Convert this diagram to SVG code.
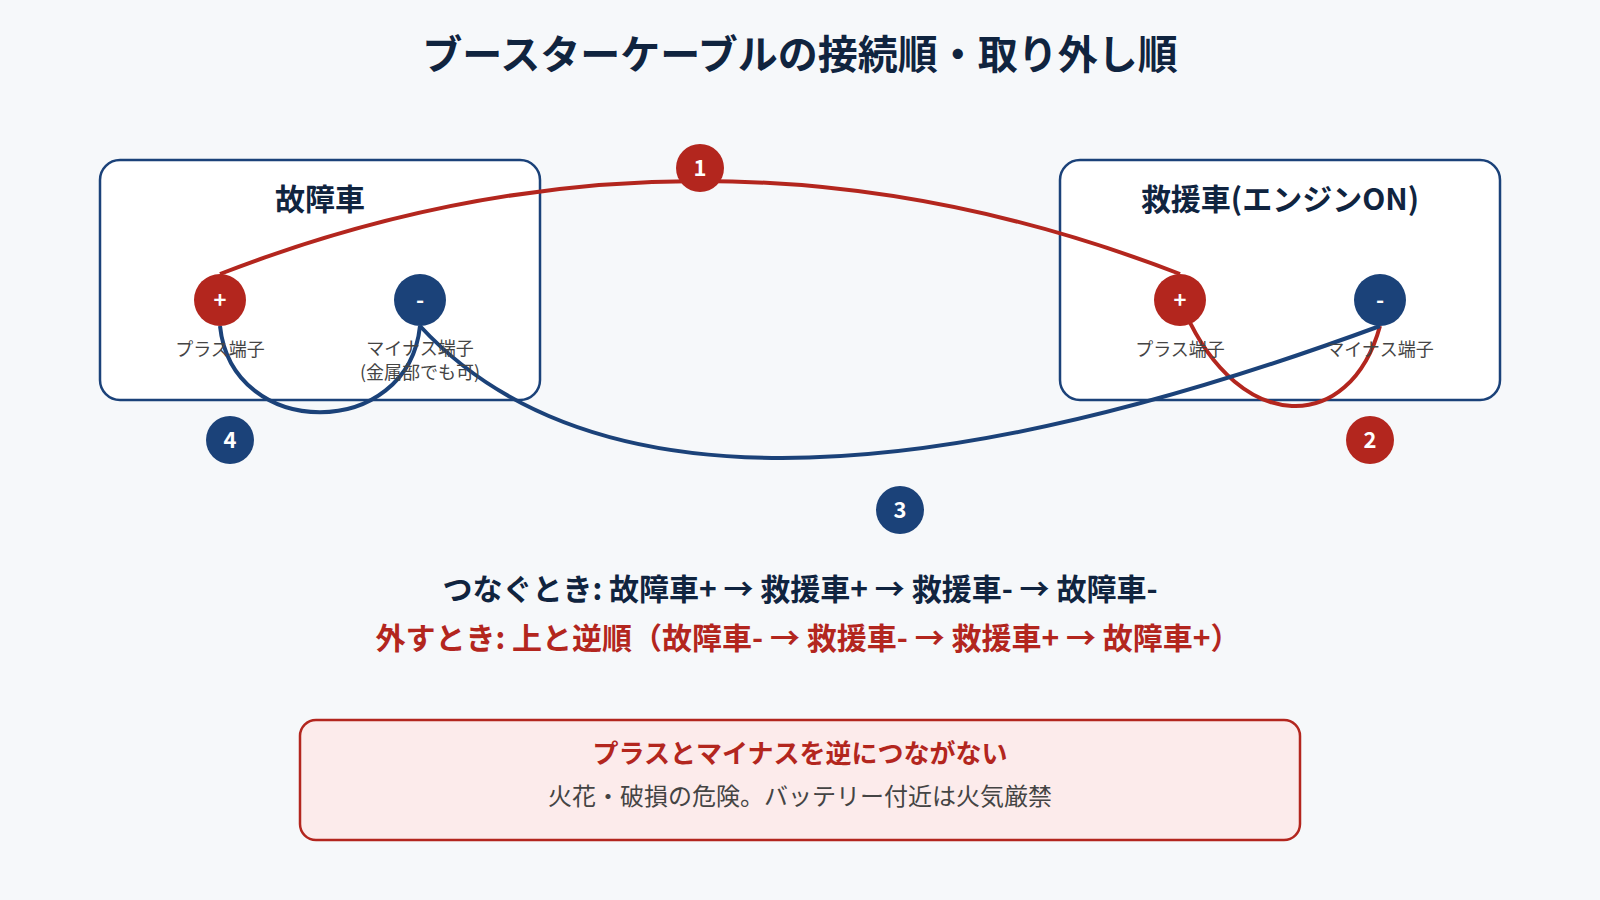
<svg xmlns="http://www.w3.org/2000/svg" width="1600" height="900" viewBox="0 0 1600 900">
<defs>
<style>
text{font-family:"Noto Sans CJK JP","Noto Sans",sans-serif;text-anchor:middle}
.title{font-size:40px;font-weight:700;fill:#10243f}
.car{fill:#ffffff;stroke:#1b4279;stroke-width:2.5}
.cartitle{font-size:30px;font-weight:700;fill:#10243f}
.lbl{font-size:18px;fill:#444444}
.pos{fill:#b3261e}
.neg{fill:#1b4279}
.sym{font-size:22px;font-weight:700;fill:#ffffff}
.wire{fill:none;stroke-width:4}
.wr{stroke:#b3261e}
.wb{stroke:#1b4279}
.num{font-size:22px;font-weight:700;fill:#ffffff}
.step{font-size:30px;font-weight:700}
</style>
</defs>
<rect x="0" y="0" width="1600" height="900" fill="#f6f8fa"/>
<text class="title" x="800" y="69">ブースターケーブルの接続順・取り外し順</text>

<g id="car-broken">
<rect class="car" x="100" y="160" width="440" height="240" rx="20"/>
<text class="cartitle" x="320" y="210">故障車</text>
</g>
<g id="car-rescue">
<rect class="car" x="1060" y="160" width="440" height="240" rx="20"/>
<text class="cartitle" x="1280" y="210">救援車(エンジンON)</text>
</g>

<g id="connectors">
<path id="wire1" class="wire wr" d="M220,274 Q700,88 1180,274"/>
<path id="wire2" class="wire wr" d="M1185,312 C1240,435 1350,435 1380,326"/>
<path id="wire3" class="wire wb" d="M1380,326 Q664,590 420,326"/>
<path id="wire4" class="wire wb" d="M220,326 C232,441 408,441 420,326"/>
</g>

<g id="broken-plus">
<circle class="pos" cx="220" cy="300" r="26"/>
<text class="sym" x="220" y="308">+</text>
<text class="lbl" x="220" y="356">プラス端子</text>
</g>
<g id="broken-minus">
<circle class="neg" cx="420" cy="300" r="26"/>
<text class="sym" x="420" y="308">-</text>
<text class="lbl" x="420" y="355">マイナス端子</text>
<text class="lbl" x="420" y="379">(金属部でも可)</text>
</g>
<g id="rescue-plus">
<circle class="pos" cx="1180" cy="300" r="26"/>
<text class="sym" x="1180" y="308">+</text>
<text class="lbl" x="1180" y="356">プラス端子</text>
</g>
<g id="rescue-minus">
<circle class="neg" cx="1380" cy="300" r="26"/>
<text class="sym" x="1380" y="308">-</text>
<text class="lbl" x="1380" y="356">マイナス端子</text>
</g>

<g id="badge1">
<circle class="pos" cx="700" cy="168" r="24"/>
<text class="num" x="700" y="176">1</text>
</g>
<g id="badge2">
<circle class="pos" cx="1370" cy="440" r="24"/>
<text class="num" x="1370" y="448">2</text>
</g>
<g id="badge3">
<circle class="neg" cx="900" cy="510" r="24"/>
<text class="num" x="900" y="518">3</text>
</g>
<g id="badge4">
<circle class="neg" cx="230" cy="440" r="24"/>
<text class="num" x="230" y="448">4</text>
</g>

<g id="steps">
<text class="step" x="800" y="600" fill="#10243f">つなぐとき: 故障車+ → 救援車+ → 救援車- → 故障車-</text>
<text class="step" x="808" y="649" fill="#b3261e">外すとき: 上と逆順（故障車- → 救援車- → 救援車+ → 故障車+）</text>
</g>

<g id="warning">
<rect x="300" y="720" width="1000" height="120" rx="16" fill="#fcebeb" stroke="#b3261e" stroke-width="2.5"/>
<text x="800" y="763" font-size="26" font-weight="700" fill="#b3261e">プラスとマイナスを逆につながない</text>
<text x="800" y="805" font-size="24" fill="#444444">火花・破損の危険。バッテリー付近は火気厳禁</text>
</g>
</svg>
